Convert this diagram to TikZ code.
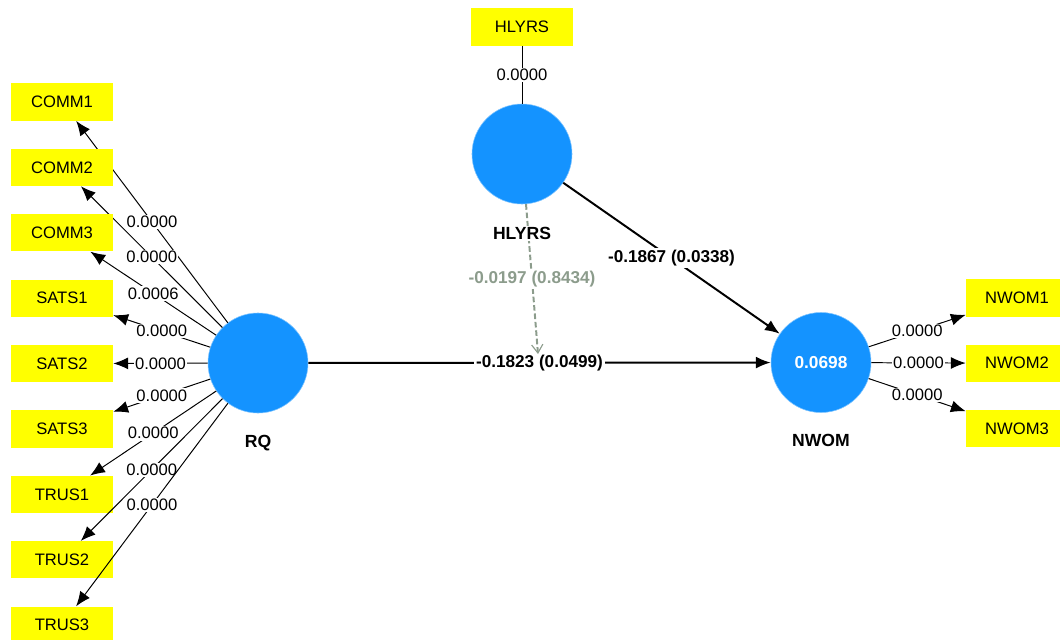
\documentclass[tikz,border=0pt]{standalone}
\usepackage{fontspec}
\setmainfont{Liberation Sans}
\usetikzlibrary{arrows.meta,positioning}
\definecolor{indbox}{HTML}{FFFF00}
\definecolor{latent}{HTML}{1493FF}
\definecolor{modpath}{HTML}{8C9C8C}

\begin{document}
\begin{tikzpicture}[x=0.025cm,y=-0.025cm,
    indicator/.style={fill=indbox,minimum width=2.55cm,minimum height=0.93cm,inner sep=0pt,font=\fontsize{11.8}{13}\selectfont},
    construct/.style={circle,fill=latent,draw=latent!55!white,line width=0.4pt,minimum size=2.5cm,inner sep=0pt,text=white,font=\bfseries\fontsize{12.3}{14}\selectfont},
    conname/.style={font=\bfseries\fontsize{12.5}{14}\selectfont,fill=white,inner sep=1pt},
    loading/.style={line width=0.7pt,-{Latex[length=10.5pt,width=8.5pt]}},
    structural/.style={line width=1.4pt,-{Latex[length=10.5pt,width=8.5pt]}},
    moderator/.style={modpath,line width=1.4pt,dash pattern=on 4pt off 2pt,-{Straight Barb[length=6pt,width=8pt,line width=0.8pt]}},
    weight/.style={fill=white,inner sep=1pt,font=\fontsize{11.8}{13}\selectfont},
    pathweight/.style={fill=white,inner sep=1.5pt,font=\bfseries\fontsize{12.2}{14}\selectfont}]
  \useasboundingbox (0,0) rectangle (1060,639);

  % latent variables
  \node[construct] (lvRQ) at (258,363) {};
  \node[construct] (lvHLYRS) at (522,154) {};
  \node[construct] (lvNWOM) at (821,362.5) {0.0698};

  % RQ indicators (reflective)
  \foreach \nm/\i/\val in {COMM1/0/0.0000, COMM2/1/0.0000, COMM3/2/0.0006,
      SATS1/3/0.0000, SATS2/4/0.0000, SATS3/5/0.0000,
      TRUS1/6/0.0000, TRUS2/7/0.0000, TRUS3/8/0.0000}{
    \pgfmathsetmacro\y{102+\i*65.4}
    \node[indicator] (\nm) at (62,\y) {\nm};
    \draw[loading] (lvRQ) -- (\nm) node[pos=0.5,weight] {\val};
  }

  % NWOM indicators
  \foreach \nm/\i in {NWOM1/0, NWOM2/1, NWOM3/2}{
    \pgfmathsetmacro\y{298+\i*65.25}
    \node[indicator] (\nm) at (1017,\y) {\nm};
    \draw[loading] (lvNWOM) -- (\nm) node[pos=0.5,weight] {0.0000};
  }

  % single item
  \node[indicator] (HLYRSi) at (522,27) {HLYRS};
  \draw[line width=0.7pt] (HLYRSi) -- (lvHLYRS) node[pos=0.5,weight] {0.0000};

  % structural paths
  \draw[structural] (lvRQ) -- (lvNWOM) node[pos=0.5,pathweight] {-0.1823 (0.0499)};
  \draw[structural] (lvHLYRS) -- (lvNWOM) node[pos=0.5,pathweight] {-0.1867 (0.0338)};
  \coordinate (modtip) at (538,354);
  \draw[moderator] (lvHLYRS) -- (modtip) node[pos=0.5,pathweight,text=modpath] {-0.0197 (0.8434)};

  % construct names
  \node[conname] (RQname) at ([yshift=-2cm]lvRQ.center) {RQ};
  \node[conname] (HLYRSname) at ([yshift=-1.98cm]lvHLYRS.center) {HLYRS};
  \node[conname] (NWOMname) at ([yshift=-1.94cm]lvNWOM.center) {NWOM};
\end{tikzpicture}
\end{document}
